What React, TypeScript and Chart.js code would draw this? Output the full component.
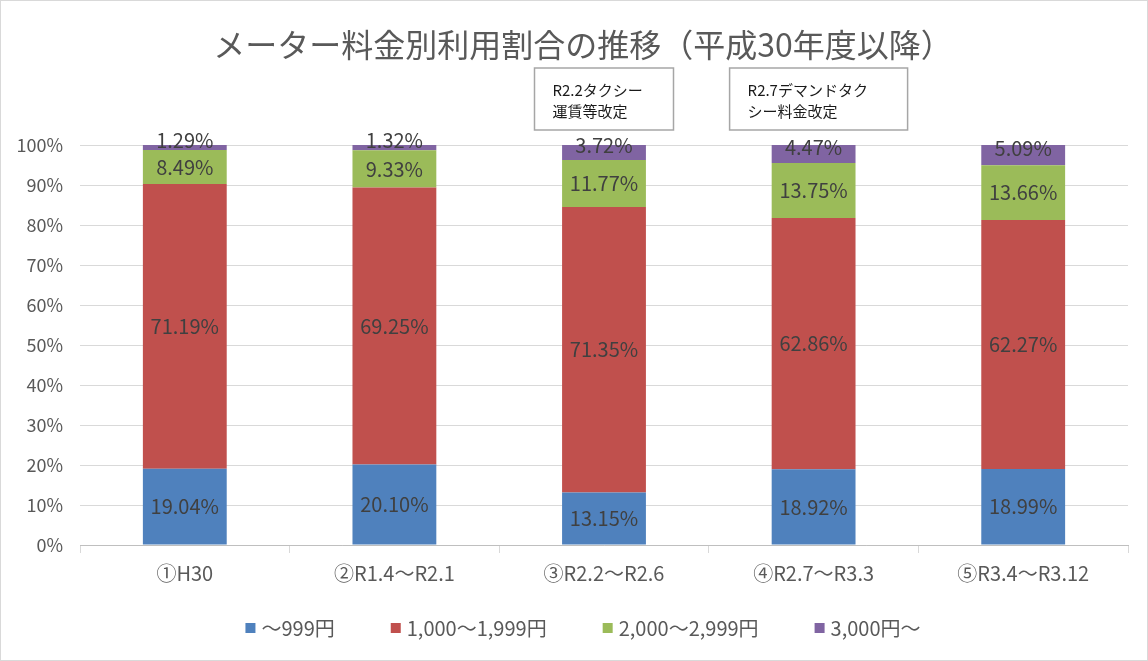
import React, { useEffect, useRef } from "react";
import { Chart, registerables } from "chart.js";

Chart.register(...registerables);

// ---- data ----
const categories = ["①H30", "②R1.4～R2.1", "③R2.2～R2.6", "④R2.7～R3.3", "⑤R3.4～R3.12"];
const seriesNames = ["～999円", "1,000～1,999円", "2,000～2,999円", "3,000円～"];
const under1000 = [19.04, 20.1, 13.15, 18.92, 18.99];
const from1000 = [71.19, 69.25, 71.35, 62.86, 62.27];
const from2000 = [8.49, 9.33, 11.77, 13.75, 13.66];
const from3000 = [1.29, 1.32, 3.72, 4.47, 5.09];
const seriesValues = [under1000, from1000, from2000, from3000];
const titleText = "メーター料金別利用割合の推移（平成30年度以降）";
const noteCategories = [2, 3];
const noteLines = [
  ["R2.2タクシー", "運賃等改定"],
  ["R2.7デマンドタク", "シー料金改定"],
];

// ---- styles ----
const seriesColors = ["#4F81BD", "#C0504D", "#9BBB59", "#8064A2"];
const FONT = "'Noto Sans CJK JP', 'Noto Sans', sans-serif";
const TEXT_GRAY = "#595959";
const LABEL_COLOR = "#404040";
const GRID = "#d9d9d9";
const noteWidths = [139, 178];
const noteOffsets = [0, 5];
const PAD_LEFT = 18;
const CENTER_X = 583;

const dataLabelPlugin = {
  id: "dataLabels",
  afterDatasetsDraw(chart: any) {
    const ctx = chart.ctx;
    ctx.save();
    ctx.font = `20px ${FONT}`;
    ctx.fillStyle = LABEL_COLOR;
    ctx.textAlign = "center";
    ctx.textBaseline = "middle";
    chart.data.datasets.forEach((ds: any, i: number) => {
      const meta = chart.getDatasetMeta(i);
      const last = i === chart.data.datasets.length - 1;
      meta.data.forEach((el: any, j: number) => {
        const v = ds.data[j];
        const y = (el.y + el.base) / 2 + (last ? -7 : 0);
        ctx.fillText(v.toFixed(2) + "%", el.x, y);
      });
    });
    ctx.restore();
  },
};

const decorPlugin = {
  id: "decor",
  beforeDraw(chart: any) {
    const ctx = chart.ctx;
    ctx.save();
    ctx.fillStyle = "#ffffff";
    ctx.fillRect(0, 0, chart.width, chart.height);
    ctx.restore();
  },
  afterDraw(chart: any) {
    const ctx = chart.ctx;
    const xs = chart.scales.x;
    const top = chart.chartArea.top;
    ctx.save();
    // outer frame
    ctx.strokeStyle = GRID;
    ctx.lineWidth = 1;
    ctx.strokeRect(0.5, 0.5, chart.width - 1, chart.height - 1);

    // title
    ctx.fillStyle = TEXT_GRAY;
    ctx.font = `32px ${FONT}`;
    ctx.textAlign = "center";
    ctx.textBaseline = "middle";
    ctx.fillText(titleText, CENTER_X, top - 100);

    // note boxes
    noteCategories.forEach((cat, k) => {
      const cx = xs.getPixelForValue(cat) + noteOffsets[k];
      const w = noteWidths[k];
      const bx = cx - w / 2;
      const by = top - 77;
      const bh = 62;
      ctx.fillStyle = "#ffffff";
      ctx.fillRect(bx, by, w, bh);
      ctx.strokeStyle = "#a6a6a6";
      ctx.lineWidth = 1.5;
      ctx.strokeRect(bx, by, w, bh);
      ctx.fillStyle = "#1a1a1a";
      ctx.font = `15px ${FONT}`;
      ctx.textAlign = "left";
      ctx.textBaseline = "middle";
      noteLines[k].forEach((line, li) => {
        ctx.fillText(line, bx + 18, by + 22 + li * 21);
      });
    });

    // legend
    ctx.font = `20px ${FONT}`;
    const box = 10;
    const boxGap = 6;
    const itemGap = 56;
    const items = chart.data.datasets.map((ds: any) => ({
      text: ds.label,
      color: ds.backgroundColor,
      w: ctx.measureText(ds.label).width,
    }));
    const total =
      items.reduce((s: number, it: any) => s + box + boxGap + it.w, 0) + itemGap * (items.length - 1);
    let x = CENTER_X - total / 2;
    const y = chart.height - 33;
    ctx.textAlign = "left";
    ctx.textBaseline = "middle";
    items.forEach((it: any) => {
      ctx.fillStyle = it.color;
      ctx.fillRect(x, y - box / 2, box, box);
      ctx.fillStyle = TEXT_GRAY;
      ctx.fillText(it.text, x + box + boxGap, y);
      x += box + boxGap + it.w + itemGap;
    });
    ctx.restore();
  },
};

export default function App() {
  const ref = useRef<HTMLCanvasElement | null>(null);

  useEffect(() => {
    document.body.style.margin = "0";
    if (!ref.current) return;
    const chart = new Chart(ref.current, {
      type: "bar",
      data: {
        labels: categories,
        datasets: seriesNames.map((name, i) => ({
          label: name,
          data: seriesValues[i],
          backgroundColor: seriesColors[i],
          borderWidth: 0,
          barPercentage: 0.4,
          categoryPercentage: 1,
        })),
      },
      options: {
        responsive: false,
        animation: false,
        devicePixelRatio: 1,
        layout: { padding: { left: PAD_LEFT, right: 20, top: 145, bottom: 68 } },
        plugins: {
          legend: { display: false },
          tooltip: { enabled: false },
          title: { display: false },
        },
        scales: {
          x: {
            stacked: true,
            grid: {
              offset: true,
              drawOnChartArea: false,
              drawTicks: true,
              tickLength: 8,
              color: GRID,
            },
            border: { display: true, color: "#bfbfbf" },
            ticks: {
              color: TEXT_GRAY,
              font: { family: FONT, size: 20 },
              padding: 8,
              maxRotation: 0,
              autoSkip: false,
            },
          },
          y: {
            stacked: true,
            min: 0,
            max: 100,
            grid: { color: GRID, drawTicks: false },
            border: { display: false },
            ticks: {
              stepSize: 10,
              color: TEXT_GRAY,
              font: { family: FONT, size: 18 },
              padding: 17,
              callback: (v: any) => v + "%",
            },
            afterFit: (scale: any) => {
              scale.width = 62;
            },
          },
        },
      },
      plugins: [decorPlugin, dataLabelPlugin],
    });
    return () => chart.destroy();
  }, []);

  return (
    <div style={{ width: 1148, height: 661 }}>
      <canvas ref={ref} width={1148} height={661} style={{ display: "block" }} />
    </div>
  );
}
